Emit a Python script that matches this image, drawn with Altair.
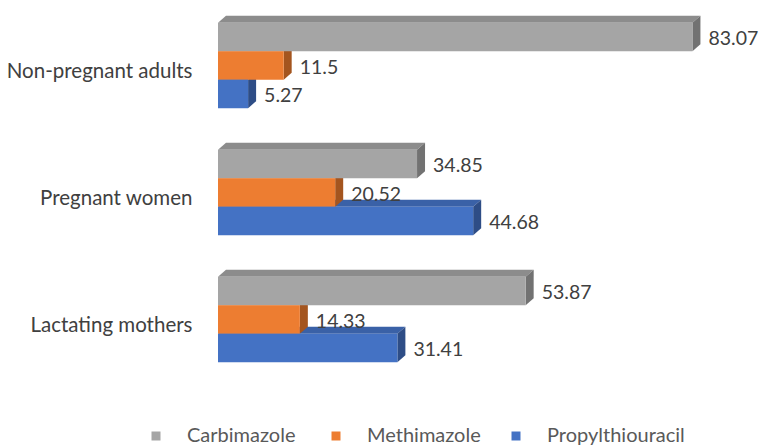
import json
import altair as alt
import pandas as pd

# ---- data ----
categories = ["Non-pregnant adults", "Pregnant women", "Lactating mothers"]
series = ["Carbimazole", "Methimazole", "Propylthiouracil"]
carbimazole = [83.07, 34.85, 53.87]
methimazole = [11.5, 20.52, 14.33]
propylthiouracil = [5.27, 44.68, 31.41]

# ---- styles ----
front_colors = ["#A5A5A5", "#ED7D31", "#4472C4"]
top_colors = ["#8C8C8C", "#C9692A", "#3A61A7"]
side_colors = ["#727272", "#A4551F", "#2E4D86"]
FONT = "Lato"

W, H = 514, 381          # plot area
XMAX = 90
PXX = W / XMAX           # px per x unit
BAND = H / 3             # px per category
BAR_PX = 28.5
h = BAR_PX / BAND
off = (1 - 3 * h) / 2
DXU = 8 / PXX            # depth in x units
DYU = 7 / BAND           # depth in y units

rows = []
values = [carbimazole, methimazole, propylthiouracil]
for j, s in enumerate(series):
    for i, c in enumerate(categories):
        rows.append({"cat": c, "ci": i, "series": s, "si": j, "value": values[j][i],
                     "topc": top_colors[j], "sidec": side_colors[j], "bar": f"{j}-{i}"})
df = pd.DataFrame(rows)

base = alt.Chart(df).transform_calculate(
    ytop=f"datum.ci + {off} + datum.si * {h}",
).transform_calculate(
    ybot=f"datum.ytop + {h}", ymid=f"datum.ytop + {h / 2}", zero="0"
)

xs = alt.Scale(domain=[0, XMAX])
ys = alt.Scale(domain=[0, 3], reverse=True)

label_expr = f"{json.dumps(categories)}[floor(datum.value)]"
yaxis = alt.Axis(values=[0.5, 1.5, 2.5], labelExpr=label_expr, title=None,
                 domain=False, ticks=False, grid=False, labelPadding=26,
                 labelFont=FONT, labelFontSize=20.5, labelColor="#404040",
                 labelOffset=6, labelLimit=400)

faces = base.transform_calculate(p0="0", p1="1").transform_fold(["p0", "p1"], as_=["k", "t"])

top = faces.transform_calculate(
    ty=f"datum.ytop - datum.t * {DYU}",
    tx=f"datum.t * {DXU}",
    tx2=f"datum.value + datum.t * {DXU}",
).mark_area(orient="horizontal").encode(
    y=alt.Y("ty:Q", scale=ys, axis=yaxis),
    x=alt.X("tx:Q", scale=xs, axis=None),
    x2="tx2:Q",
    detail="bar:N",
    color=alt.Color("topc:N", scale=None),
)

side = faces.transform_calculate(
    sx=f"datum.value + datum.t * {DXU}",
    sy=f"datum.ytop - datum.t * {DYU}",
    sy2=f"datum.ybot - datum.t * {DYU}",
).mark_area(orient="vertical").encode(
    x=alt.X("sx:Q", scale=xs, axis=None),
    y=alt.Y("sy:Q", scale=ys, axis=yaxis),
    y2="sy2:Q",
    detail="bar:N",
    color=alt.Color("sidec:N", scale=None),
)

front = base.mark_rect().encode(
    x=alt.X("zero:Q", scale=xs, axis=None),
    x2="value:Q",
    y=alt.Y("ytop:Q", scale=ys, axis=yaxis),
    y2="ybot:Q",
    color=alt.Color("series:N",
                    scale=alt.Scale(domain=series, range=front_colors),
                    legend=alt.Legend(orient="none", legendX=-72, legendY=424,
                                      direction="horizontal", columns=3, gridAlign="all",
                                      title=None, symbolType="square", symbolSize=81,
                                      symbolStrokeWidth=0, labelOffset=21,
                                      columnPadding=1, padding=0,
                                      labelFont=FONT, labelFontSize=20,
                                      labelColor="#595959")),
)

text = base.mark_text(align="left", baseline="middle", dx=16, dy=2,
                      font=FONT, fontSize=19.5, color="#404040").encode(
    x=alt.X("value:Q", scale=xs, axis=None),
    y=alt.Y("ymid:Q", scale=ys, axis=yaxis),
    text=alt.Text("value:Q"),
)

chart = alt.layer(top, side, front, text).properties(
    width=W, height=H,
    background="white",
    autosize=alt.AutoSizeParams(type="none"),
    padding={"left": 218, "top": 2, "right": 759 - 218 - W, "bottom": 446 - 2 - H},
).configure_view(strokeWidth=0, stroke=None)

chart.save("out.html", embed_options={"renderer": "svg", "actions": False})
